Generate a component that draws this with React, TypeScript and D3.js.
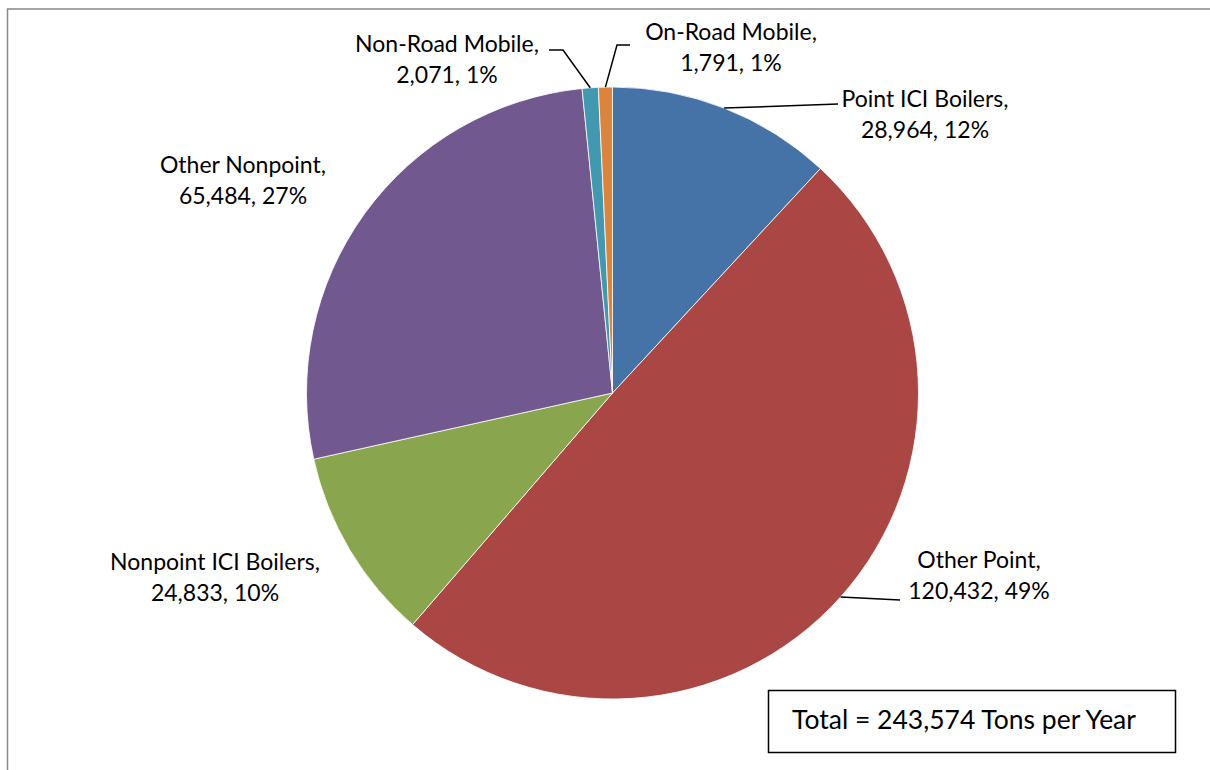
import React from "react";
import * as d3 from "d3";

const categories = ["Point ICI Boilers", "Other Point", "Nonpoint ICI Boilers", "Other Nonpoint", "Non-Road Mobile", "On-Road Mobile"];
const values = [28964, 120432, 24833, 65484, 2071, 1791];
const percentLabels = ["12%", "49%", "10%", "27%", "1%", "1%"];
const colors = ["#4572A7", "#AA4643", "#89A54E", "#71588F", "#4198AF", "#DB843D"];
const totalText = "Total = 243,574 Tons per Year";

// label layout: text centre (first line baseline) and leader line elbow
const labelLayout = [
  { x: 925, y: 107, leader: [[838, 104]] },
  { x: 979, y: 568, leader: [[900, 600]] },
  { x: 215, y: 570, leader: [] },
  { x: 243, y: 173, leader: [] },
  { x: 447, y: 52, leader: [[563, 50], [549, 50]] },
  { x: 731, y: 40, leader: [[617, 45], [630, 45]] },
];

const W = 1210, H = 770;
const cx = 612.5, cy = 393, R = 306;

export default function App() {
  const pie = d3.pie<number>().sort(null).value((d) => d);
  const arcs = pie(values);
  const arcGen = d3.arc<d3.PieArcDatum<number>>().innerRadius(0).outerRadius(R);
  const fmt = d3.format(",");
  const font = "Lato, 'Open Sans', sans-serif";

  return (
    <svg width={W} height={H} style={{ position: "absolute", left: 0, top: 0 }} fontFamily={font}>
      <rect x={0} y={0} width={W} height={H} fill="#fff" />
      <rect x={7.5} y={9} width={W + 20} height={H + 20} fill="none" stroke="#888" strokeWidth={1.5} />
      <g transform={`translate(${cx},${cy})`}>
        {arcs.map((a, i) => (
          <path key={i} d={arcGen(a) || ""} fill={colors[i]} stroke="#fff" strokeWidth={0.8} />
        ))}
      </g>
      {arcs.map((a, i) => {
        const L = labelLayout[i];
        if (!L.leader.length) return null;
        const mid = (a.startAngle + a.endAngle) / 2;
        const sx = cx + R * Math.sin(mid);
        const sy = cy - R * Math.cos(mid);
        const pts = [[sx, sy], ...L.leader];
        return (
          <polyline key={"l" + i} points={pts.map((p) => p.join(",")).join(" ")} fill="none" stroke="#000" strokeWidth={1.5} />
        );
      })}
      {categories.map((c, i) => {
        const L = labelLayout[i];
        return (
          <text key={"t" + i} x={L.x} y={L.y} textAnchor="middle" fontSize={23} fill="#000">
            <tspan x={L.x}>{c},</tspan>
            <tspan x={L.x} dy={31}>{fmt(values[i])}, {percentLabels[i]}</tspan>
          </text>
        );
      })}
      <rect x={768.5} y={690.5} width={407} height={62} fill="#fff" stroke="#000" strokeWidth={1.5} />
      <text x={964} y={729} textAnchor="middle" fontSize={26.5} fill="#000">{totalText}</text>
    </svg>
  );
}
